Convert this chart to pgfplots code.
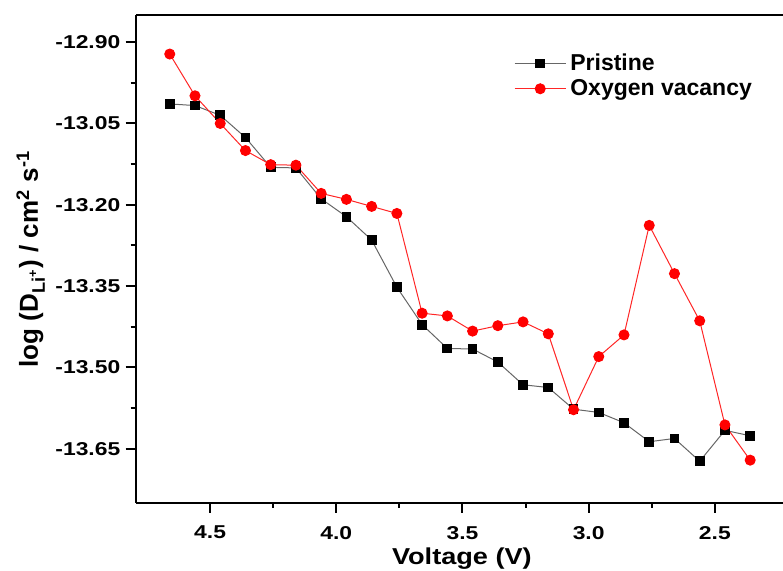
\documentclass[border=0pt]{standalone}
\usepackage{fontspec}
\setmainfont{Liberation Sans}
\newfontfamily\tickfont{Liberation Sans}[FakeStretch=1.23]
\newfontfamily\xlabfont{Liberation Sans}[FakeStretch=1.18]
\usepackage{pgfplots}
\pgfplotsset{compat=1.18}

\begin{document}
\begin{tikzpicture}
\useasboundingbox (-67.85pt,-34pt) rectangle (323.65pt,251.5pt);
\begin{axis}[
  at={(0,0)}, anchor=south west,
  scale only axis,
  width=323.65pt, height=244pt,
  x dir=reverse,
  xmin=2.23, xmax=4.795,
  ymin=-13.75, ymax=-12.85,
  axis x line=box, axis y line=left,
  axis line style={-, line width=1pt, black},
  xtick={2.5,3.0,3.5,4.0,4.5},
  ytick={-13.65,-13.50,-13.35,-13.20,-13.05,-12.90},
  minor x tick num=1, minor y tick num=1,
  xtick pos=left, ytick pos=left,
  tick align=outside,
  major tick length=5pt, minor tick length=2.5pt,
  every tick/.style={black, line width=1pt},
  /pgf/number format/assume math mode=true,
  ticklabel style={font=\tickfont\fontsize{9.3}{11}\selectfont\bfseries},
  xticklabel style={yshift=-3pt,
    /pgf/number format/.cd, fixed, fixed zerofill, precision=1},
  yticklabel style={inner sep=0pt, xshift=-2.5pt,
    /pgf/number format/.cd, fixed, fixed zerofill, precision=2},
  xlabel={Voltage (V)},
  xlabel style={at={(axis description cs:0.504,-0.1256)}, anchor=base,
    font=\xlabfont\fontsize{11.5}{14}\selectfont\bfseries},
  ylabel={log (D\textsubscript{Li\textsuperscript{+}}) / cm\textsuperscript{2} s\textsuperscript{-1}},
  ylabel style={at={(axis description cs:-0.151,0.5)}, anchor=base, rotate=0,
    font=\fontsize{13}{15}\selectfont\bfseries},
  legend style={draw=none, fill=none, at={(axis description cs:0.584,0.93)},
    anchor=north west, font=\fontsize{11.5}{13}\selectfont\bfseries,
    row sep=-1pt, inner sep=0pt},
  legend cell align=left,
  legend image code/.code={\draw[mark repeat=2,mark phase=2,#1]
    plot coordinates {(0cm,0cm) (0.45cm,0cm) (0.9cm,0cm)};},
]
% Pristine electrode
\addplot[color=black!60, line width=0.5pt, mark=square*, mark size=2.2pt,
  mark options={fill=black, draw=black}] table {
V     logD
4.66  -13.014
4.56  -13.017
4.46  -13.035
4.36  -13.076
4.26  -13.131
4.16  -13.132
4.06  -13.189
3.96  -13.222
3.86  -13.265
3.76  -13.352
3.66  -13.421
3.56  -13.465
3.46  -13.466
3.36  -13.490
3.26  -13.532
3.16  -13.537
3.06  -13.577
2.96  -13.583
2.86  -13.602
2.76  -13.637
2.66  -13.631
2.56  -13.673
2.46  -13.616
2.36  -13.626
};
\addlegendentry{Pristine}
% Electrode with oxygen vacancies
\addplot[color=red!85, line width=0.5pt, mark=*, mark size=2.5pt,
  mark options={fill=red, draw=red}] table {
V     logD
4.66  -12.922
4.56  -12.999
4.46  -13.050
4.36  -13.100
4.26  -13.126
4.16  -13.127
4.06  -13.179
3.96  -13.190
3.86  -13.203
3.76  -13.216
3.66  -13.400
3.56  -13.405
3.46  -13.433
3.36  -13.423
3.26  -13.416
3.16  -13.438
3.06  -13.578
2.96  -13.480
2.86  -13.440
2.76  -13.238
2.66  -13.327
2.56  -13.414
2.46  -13.606
2.36  -13.671
};
\addlegendentry{Oxygen vacancy}
\end{axis}
\end{tikzpicture}
\end{document}
